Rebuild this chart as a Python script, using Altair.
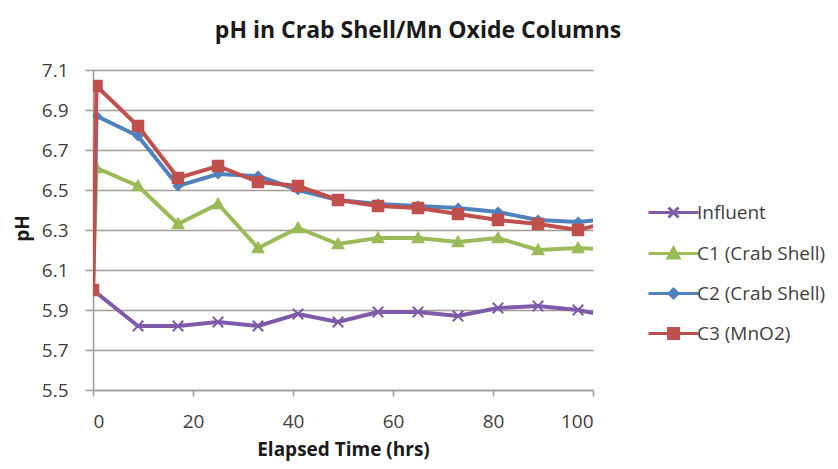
import altair as alt
import pandas as pd

# ---- data ----
series_names = ["Influent", "C1 (Crab Shell)", "C2 (Crab Shell)", "C3 (MnO2)"]
series_colors = ["#7E5BA8", "#9BBB59", "#4F81BD", "#C0504D"]

hours_influent = [0, 9, 17, 25, 33, 41, 49, 57, 65, 73, 81, 89, 97, 105]
ph_influent = [6.00, 5.82, 5.82, 5.84, 5.82, 5.88, 5.84, 5.89, 5.89, 5.87, 5.91, 5.92, 5.90, 5.86]

hours_columns = [0, 0.7, 9, 17, 25, 33, 41, 49, 57, 65, 73, 81, 89, 97, 105]
ph_c1 = [6.00, 6.61, 6.52, 6.33, 6.43, 6.21, 6.31, 6.23, 6.26, 6.26, 6.24, 6.26, 6.20, 6.21, 6.20]
ph_c2 = [6.00, 6.87, 6.77, 6.52, 6.58, 6.57, 6.50, 6.45, 6.43, 6.42, 6.41, 6.39, 6.35, 6.34, 6.36]
ph_c3 = [6.00, 7.02, 6.82, 6.56, 6.62, 6.54, 6.52, 6.45, 6.42, 6.41, 6.38, 6.35, 6.33, 6.30, 6.35]

x_ticks = [0, 20, 40, 60, 80, 100]
y_ticks = [5.5, 5.7, 5.9, 6.1, 6.3, 6.5, 6.7, 6.9, 7.1]

rows = []
for h, v in zip(hours_influent, ph_influent):
    rows.append({"series": series_names[0], "hours": h, "pH": v})
for name, vals in zip(series_names[1:], [ph_c1, ph_c2, ph_c3]):
    for h, v in zip(hours_columns, vals):
        rows.append({"series": name, "hours": h, "pH": v})
df = pd.DataFrame(rows)

# marker shapes (plot) and legend symbols (line through marker)
marker_paths = [
    "M-1,-1L1,1M-1,1L1,-1",
    "M0,-1L1,0.8L-1,0.8Z",
    "M0,-0.8L0.8,0L0,0.8L-0.8,0Z",
    "M-1,-1L1,-1L1,1L-1,1Z",
]
legend_paths = [
    "M-2.5,0L2.5,0M-0.5,-0.5L0.5,0.5M-0.5,0.5L0.5,-0.5",
    "M-2.5,0L2.5,0M0,-0.55L0.55,0.45L-0.55,0.45Z",
    "M-2.5,0L2.5,0M0,-0.45L0.45,0L0,0.45L-0.45,0Z",
    "M-2.5,0L2.5,0M-0.5,-0.5L0.5,-0.5L0.5,0.5L-0.5,0.5Z",
]

FONT = "Open Sans"
AXIS_GREY = "#a39b96"
TEXT = "#404040"

x_enc = alt.X(
    "hours:Q",
    scale=alt.Scale(domain=[0, 100], nice=False),
    axis=alt.Axis(
        values=x_ticks, grid=False, title="Elapsed Time (hrs)",
        tickSize=6, labelPadding=16, titleY=59, titleBaseline="middle",
    ),
)
y_enc = alt.Y(
    "pH:Q",
    scale=alt.Scale(domain=[5.5, 7.1], nice=False, zero=False),
    axis=alt.Axis(
        values=y_ticks, format=".1f", grid=True, title="pH",
        tickSize=8, labelPadding=17, titleX=-71, titleY=158,
        titleAngle=-90, titleAlign="center", titleBaseline="middle",
    ),
)

base = alt.Chart(df)

layers = []
for name, col, path in zip(series_names, series_colors, marker_paths):
    sub = base.transform_filter(alt.datum.series == name)
    layers.append(
        sub.mark_line(strokeWidth=4, clip=True, color=col).encode(x=x_enc, y=y_enc)
    )
    layers.append(
        sub.mark_point(
            size=110, strokeWidth=2, clip=True, opacity=1,
            shape=path, fill=col, stroke=col, filled=True,
        ).encode(x=x_enc, y=y_enc)
    )

leg = alt.Legend(
    title=None, orient="none", legendX=569, legendY=131,
    symbolSize=400, symbolStrokeWidth=3, labelOffset=12, rowPadding=18,
    labelFont=FONT, labelFontSize=19, labelColor=TEXT, padding=0,
    labelLimit=300,
)

legend_layer = base.transform_filter("datum.hours > 100").mark_point(
    size=400, strokeWidth=3, clip=True, opacity=1
).encode(
    x=x_enc, y=y_enc,
    fill=alt.Fill("series:N", scale=alt.Scale(domain=series_names, range=series_colors), legend=leg),
    stroke=alt.Stroke("series:N", scale=alt.Scale(domain=series_names, range=series_colors), legend=leg),
    shape=alt.Shape("series:N", scale=alt.Scale(domain=series_names, range=legend_paths), legend=leg),
)
layers.append(legend_layer)

chart = (
    alt.layer(*layers)
    .properties(
        width=500, height=320,
        autosize=alt.AutoSizeParams(type="none"),
        padding={"left": 85, "top": 62, "right": 237, "bottom": 71},
        title=alt.Title(
            "pH in Crab Shell/Mn Oxide Columns", font=FONT, fontSize=23,
            fontWeight="bold", color="#1a1a1a", anchor="middle", dx=75, offset=18,
        ),
        background="white",
    )
    .configure_view(stroke=None)
    .configure_axis(
        labelFont=FONT, labelFontSize=19, labelColor=TEXT,
        titleFont=FONT, titleFontSize=19, titleFontWeight="bold", titleColor="#1a1a1a",
        domainColor=AXIS_GREY, domainWidth=1.5, tickColor=AXIS_GREY, tickWidth=1.5,
        gridColor=AXIS_GREY, gridWidth=1.5,
    )
    .configure_axisY(labelPadding=17, tickSize=8)
)

chart.save("out.html", embed_options={"renderer": "svg", "actions": False})
